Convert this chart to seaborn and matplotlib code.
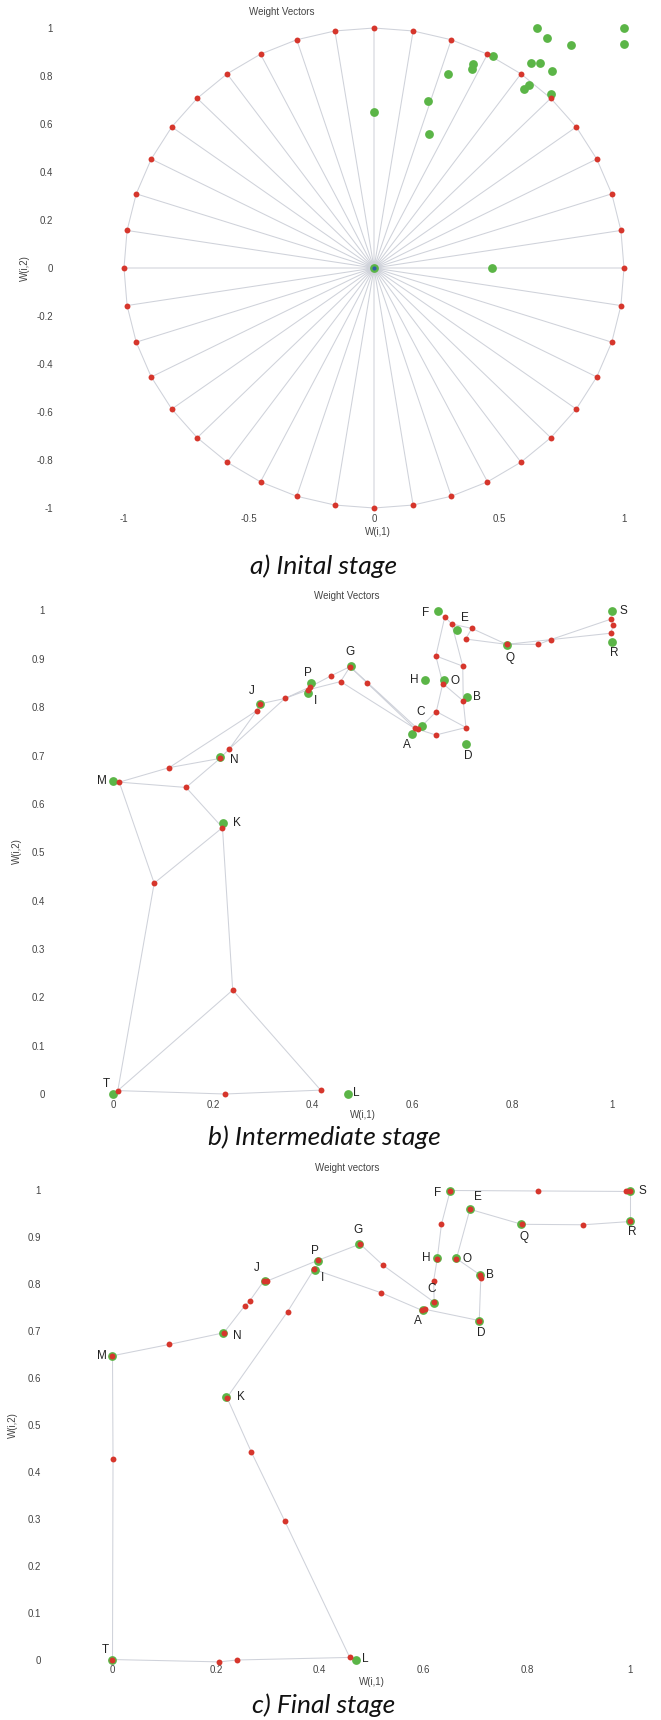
import numpy as np
import pandas as pd
import matplotlib
matplotlib.use("Agg")
import matplotlib.pyplot as plt
import seaborn as sns

# ---------------- data ----------------
point_labels = list("ABCDEFGHIJKLMNOPQRST")
point_x = [0.600, 0.710, 0.620, 0.707, 0.690, 0.651, 0.476, 0.626, 0.390, 0.294, 0.220, 0.470,
           0.000, 0.214, 0.664, 0.396, 0.789, 1.000, 1.000, 0.000]
point_y = [0.745, 0.821, 0.761, 0.723, 0.960, 1.000, 0.885, 0.856, 0.830, 0.807, 0.560, 0.000,
           0.648, 0.697, 0.856, 0.850, 0.929, 0.934, 1.000, 0.000]

# (a) initial stage: neurons on the unit circle (angles in degrees) + centre neuron
init_angles_deg = [0, 9, 18, 27, 36, 45, 54, 63, 72, 81, 90, 99, 108, 117, 126, 135, 144, 153,
                   162, 171, 180, 189, 198, 207, 216, 225, 234, 243, 252, 261, 270, 279, 288,
                   297, 306, 315, 324, 333, 342, 351]
centre_x = [0.0]
centre_y = [0.0]

# (b) intermediate stage neurons + connections
mid_x = [0.009, 0.224, 0.416, 0.2395, 0.219, 0.082, 0.012, 0.146, 0.112, 0.214, 0.233, 0.288,
         0.295, 0.344, 0.391, 0.3946, 0.436, 0.456, 0.475, 0.508, 0.605, 0.612, 0.647, 0.648,
         0.661, 0.7075, 0.702, 0.701, 0.647, 0.665, 0.679, 0.719, 0.707, 0.789, 0.8526, 0.878,
         0.998, 1.003, 0.998]
mid_y = [0.007, 0.000, 0.008, 0.215, 0.551, 0.436, 0.645, 0.634, 0.675, 0.694, 0.714, 0.793,
         0.807, 0.818, 0.836, 0.842, 0.8645, 0.853, 0.884, 0.851, 0.756, 0.754, 0.7425, 0.791,
         0.849, 0.758, 0.813, 0.885, 0.906, 0.987, 0.972, 0.963, 0.941, 0.930, 0.930, 0.940,
         0.982, 0.970, 0.953]
mid_edges = [(0, 1), (1, 2), (0, 3), (3, 2), (0, 5), (5, 6), (5, 4), (4, 3), (6, 8), (6, 7),
             (7, 9), (7, 4), (8, 9), (8, 11), (9, 10), (10, 11), (10, 13), (11, 12), (12, 13),
             (13, 14), (13, 15), (15, 16), (16, 18), (14, 17), (17, 18), (17, 20), (18, 19),
             (19, 20), (18, 21), (20, 21), (21, 23), (21, 22), (22, 25), (23, 25), (23, 24),
             (24, 26), (26, 25), (24, 28), (28, 27), (27, 26), (28, 29), (29, 30), (30, 27),
             (30, 31), (31, 32), (31, 33), (32, 33), (33, 34), (34, 35), (35, 36), (33, 38),
             (36, 37), (37, 38)]

# (c) final stage: neurons along a closed ring
fin_x = [0.000, 0.206, 0.240, 0.458, 0.333, 0.268, 0.221, 0.338, 0.389, 0.519, 0.597, 0.603,
         0.708, 0.711, 0.710, 0.664, 0.690, 0.790, 0.909, 1.000, 1.000, 0.992, 0.821, 0.652,
         0.635, 0.627, 0.620, 0.621, 0.522, 0.478, 0.396, 0.298, 0.292, 0.265, 0.255, 0.215,
         0.109, 0.000, 0.001]
fin_y = [0.001, -0.004, 0.000, 0.0055, 0.295, 0.443, 0.559, 0.742, 0.832, 0.782, 0.745, 0.747,
         0.723, 0.813, 0.820, 0.855, 0.960, 0.928, 0.927, 0.934, 1.000, 0.998, 0.999, 1.000,
         0.928, 0.855, 0.808, 0.762, 0.841, 0.886, 0.851, 0.807, 0.807, 0.765, 0.754, 0.697,
         0.672, 0.648, 0.428]

# label offsets (pixels: dx right, dy down) for the letters
label_dx = [-5, 10, -2, 3, 8, -12, -1, -11, 8, -8, 14, 9, -11, 14, 11, -3, 3, 2, 12, -7]
label_dy = [11, 0, -14, 12, -12, 3, -14, 0, 8, -13, 0, -1, 0, 3, 1, -10, 13, 11, 0, -10]

# ---------------- style ----------------
GREEN = "#5bb547"
RED = "#d6362c"
BLUE = "#2f5ea8"
LINE = "#cfd2da"
TXT = "#444444"

sns.set_theme(style="white")
plt.rcParams['font.family'] = ['Liberation Sans', 'DejaVu Sans']

W, H, DPI = 661, 1720, 100
fig = plt.figure(figsize=(W / DPI, H / DPI), dpi=DPI)
PT = 72.0 / DPI  # points per pixel


def place_axes(x0, xs, xlim, y0, ys, ylim):
    left = x0 + xs * xlim[0]
    right = x0 + xs * xlim[1]
    top = y0 - ys * ylim[1]
    bottom = y0 - ys * ylim[0]
    ax = fig.add_axes([left / W, 1 - bottom / H, (right - left) / W, (bottom - top) / H])
    ax.set_xlim(xlim)
    ax.set_ylim(ylim)
    for s in ax.spines.values():
        s.set_visible(False)
    ax.grid(False)
    ax.set_facecolor("none")
    return ax, left, bottom


def ftext(px, py, s, **kw):
    fig.text(px / W, 1 - py / H, s, **kw)


def style_ticks(ax, xticks, xlabels, yticks, ylabels, xpad, ypad):
    ax.set_xticks(xticks)
    ax.set_xticklabels(xlabels)
    ax.set_yticks(yticks)
    ax.set_yticklabels(ylabels)
    ax.tick_params(axis='x', length=0, pad=xpad, labelsize=7, labelcolor=TXT)
    ax.tick_params(axis='y', length=0, pad=ypad, labelsize=7, labelcolor=TXT)


def draw_points(ax, labels=False):
    dfp = pd.DataFrame({"x": point_x, "y": point_y, "lab": point_labels})
    sns.scatterplot(data=dfp, x="x", y="y", color=GREEN, s=40, linewidth=0, ax=ax,
                    zorder=3, clip_on=False, legend=False)
    if labels:
        for lab, x, y, dx, dy in zip(point_labels, point_x, point_y, label_dx, label_dy):
            ax.annotate(lab, (x, y), xytext=(dx * PT, -dy * PT), textcoords="offset points",
                        ha="center", va="center", fontsize=8.5, color="#222222", zorder=6)


def draw_segments(ax, xs1, ys1, xs2, ys2):
    sx, sy = [], []
    for a, b, c, d in zip(xs1, ys1, xs2, ys2):
        sx += [a, c, np.nan]
        sy += [b, d, np.nan]
    ax.plot(sx, sy, color=LINE, lw=0.75, zorder=1, clip_on=False)


# ---------------- (a) initial stage ----------------
ang = np.deg2rad(np.array(init_angles_deg, dtype=float))
rim_x = np.cos(ang)
rim_y = np.sin(ang)
axa, la, ba = place_axes(374, 250, (-1.15, 1.15), 268, 240, (-1.017, 1.07))
# spokes
draw_segments(axa, centre_x * len(rim_x), centre_y * len(rim_y), rim_x, rim_y)
# ring
draw_segments(axa, rim_x, rim_y, np.roll(rim_x, -1), np.roll(rim_y, -1))
draw_points(axa)
sns.scatterplot(x=rim_x, y=rim_y, color=RED, s=18, linewidth=0, ax=axa, zorder=4, clip_on=False)
sns.scatterplot(x=centre_x, y=centre_y, color=BLUE, s=9, linewidth=0, ax=axa, zorder=5,
                clip_on=False)
style_ticks(axa, [-1, -0.5, 0, 0.5, 1], ["-1", "-0.5", "0", "0.5", "1"],
            [-1, -0.8, -0.6, -0.4, -0.2, 0, 0.2, 0.4, 0.6, 0.8, 1],
            ["-1", "-0.8", "-0.6", "-0.4", "-0.2", "0", "0.2", "0.4", "0.6", "0.8", "1"],
            xpad=1.5, ypad=(la - 53) * PT)
axa.set_xlabel("")
axa.set_ylabel("")
ftext(282, 12, "Weight Vectors", ha="center", va="center", fontsize=7, color=TXT)
ftext(378, 532, "W(i,1)", ha="center", va="center", fontsize=7, color=TXT)
ftext(25, 268, "W(i,2)", ha="center", va="center", fontsize=7, color=TXT, rotation=90)

# ---------------- (b) intermediate stage ----------------
axb, lb, bb = place_axes(113.3, 498.5, (-0.1, 1.06), 1094, 483.5, (-0.01, 1.08))
e1 = [e[0] for e in mid_edges]
e2 = [e[1] for e in mid_edges]
draw_segments(axb, [mid_x[i] for i in e1], [mid_y[i] for i in e1],
              [mid_x[i] for i in e2], [mid_y[i] for i in e2])
draw_points(axb, labels=True)
sns.scatterplot(x=mid_x, y=mid_y, color=RED, s=18, linewidth=0, ax=axb, zorder=4, clip_on=False)
ticks01 = [0, 0.1, 0.2, 0.3, 0.4, 0.5, 0.6, 0.7, 0.8, 0.9, 1]
ticklab01 = ["0", "0.1", "0.2", "0.3", "0.4", "0.5", "0.6", "0.7", "0.8", "0.9", "1"]
style_ticks(axb, [0, 0.2, 0.4, 0.6, 0.8, 1], ["0", "0.2", "0.4", "0.6", "0.8", "1"],
            ticks01, ticklab01, xpad=0.5, ypad=(lb - 45) * PT)
axb.set_xlabel("")
axb.set_ylabel("")
ftext(347, 596, "Weight Vectors", ha="center", va="center", fontsize=7, color=TXT)
ftext(363, 1115, "W(i,1)", ha="center", va="center", fontsize=7, color=TXT)
ftext(17, 851, "W(i,2)", ha="center", va="center", fontsize=7, color=TXT, rotation=90)

# ---------------- (c) final stage ----------------
axc, lc, bc = place_axes(112.5, 518, (-0.1, 1.06), 1660, 469.5, (-0.01, 1.08))
draw_segments(axc, fin_x, fin_y, np.roll(fin_x, -1), np.roll(fin_y, -1))
draw_points(axc, labels=True)
sns.scatterplot(x=fin_x, y=fin_y, color=RED, s=18, linewidth=0, ax=axc, zorder=4, clip_on=False)
style_ticks(axc, [0, 0.2, 0.4, 0.6, 0.8, 1], ["0", "0.2", "0.4", "0.6", "0.8", "1"],
            ticks01, ticklab01, xpad=0.5, ypad=(lc - 41) * PT)
axc.set_xlabel("")
axc.set_ylabel("")
ftext(347, 1168, "Weight vectors", ha="center", va="center", fontsize=7, color=TXT)
ftext(372, 1682, "W(i,1)", ha="center", va="center", fontsize=7, color=TXT)
ftext(13, 1425, "W(i,2)", ha="center", va="center", fontsize=7, color=TXT, rotation=90)

# ---------------- captions ----------------
cap_kw = dict(ha="center", va="center", fontsize=19, style="italic", color="#111111",
              family=["Lato", "DejaVu Sans"])
ftext(324, 566, "a) Inital stage", **cap_kw)
ftext(324, 1137, "b) Intermediate stage", **cap_kw)
ftext(324, 1705, "c) Final stage", **cap_kw)

fig.savefig("out.png", dpi=DPI)
